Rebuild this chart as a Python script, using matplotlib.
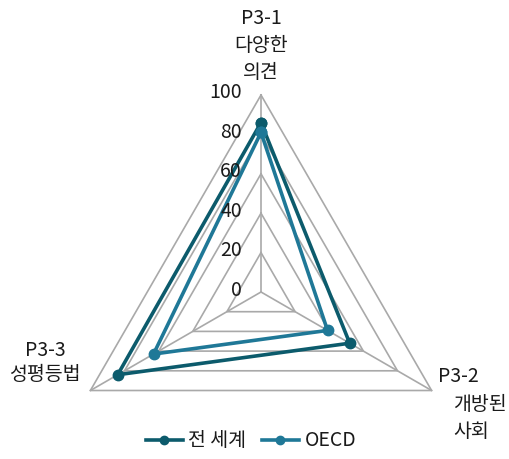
import numpy as np
import matplotlib
matplotlib.use("Agg")
import matplotlib.pyplot as plt
import matplotlib.transforms as mtransforms
from matplotlib.lines import Line2D

plt.rcParams['font.family'] = ['Noto Sans CJK KR', 'DejaVu Sans']
plt.rcParams['font.weight'] = 'medium'

categories = ["P3-1\n다양한\n의견", "P3-2\n개방된\n사회", "P3-3\n성평등법"]
series_names = ["전 세계", "OECD"]
world_values = [86, 52, 84]
oecd_values = [81, 39, 63]
r_ticks = [0, 20, 40, 60, 80, 100]
r_tick_labels = ["0", "20", "40", "60", "80", "100"]

colors = ["#0c5b6c", "#1f7897"]
grid_color = "#a9a9a9"
text_color = "#1a1a1a"

W, H = 510, 459
fig = plt.figure(figsize=(W / 100, H / 100), dpi=100)

cx, cy, R = 261, 292, 197
ax = fig.add_axes([(cx - R) / W, (H - cy - R) / H, 2 * R / W, 2 * R / H], projection="polar")
ax.set_theta_offset(np.pi / 2)
ax.set_theta_direction(-1)
ax.set_ylim(0, 100)
ax.grid(False)
ax.spines["polar"].set_visible(False)
ax.set_xticks([])
ax.set_yticks([])
ax.patch.set_alpha(0)

n = len(categories)
theta = np.arange(n) * 2 * np.pi / n
theta_c = np.append(theta, theta[0])

for r in r_ticks[1:]:
    ax.plot(theta_c, [r] * (n + 1), color=grid_color, lw=1.2, clip_on=False, zorder=1)
for t in theta:
    ax.plot([t, t], [0, r_ticks[-1]], color=grid_color, lw=1.2, clip_on=False, zorder=1)

for vals, c in zip([world_values, oecd_values], colors):
    v = np.append(vals, vals[0])
    ax.plot(theta_c, v, color=c, lw=2.6, marker="o", markersize=7.5, clip_on=False, zorder=3)

off = mtransforms.offset_copy(ax.transData, fig=fig, x=-19, y=2, units="dots")
for r, lab in zip(r_ticks, r_tick_labels):
    ax.text(0, r, lab, transform=off, ha="right", va="center", fontsize=14, color=text_color, zorder=4)

# category labels
fig.text(261 / W, 1 - 19 / H, "P3-1", ha="center", va="center", fontsize=14, color=text_color)
fig.text(261 / W, 1 - 59 / H, "다양한\n의견", ha="center", va="center", fontsize=14, color=text_color, linespacing=1.4)
fig.text(438 / W, 1 - 377 / H, "P3-2", ha="left", va="center", fontsize=14, color=text_color)
fig.text(453 / W, 1 - 418 / H, "개방된\n사회", ha="left", va="center", fontsize=14, color=text_color, linespacing=1.4)
fig.text(45 / W, 1 - 350 / H, "P3-3", ha="center", va="center", fontsize=14, color=text_color)
fig.text(45 / W, 1 - 374 / H, "성평등법", ha="center", va="center", fontsize=14, color=text_color)

handles = [Line2D([0], [0], color=c, lw=2.6, marker="o", markersize=6) for c in colors]
fig.legend(handles, series_names, loc="center", bbox_to_anchor=(251 / W, 1 - 441 / H),
           ncol=2, frameon=False, fontsize=14, handlelength=1.9, handletextpad=0.3,
           columnspacing=0.8, labelcolor=text_color)

fig.savefig("out.png", dpi=100)
